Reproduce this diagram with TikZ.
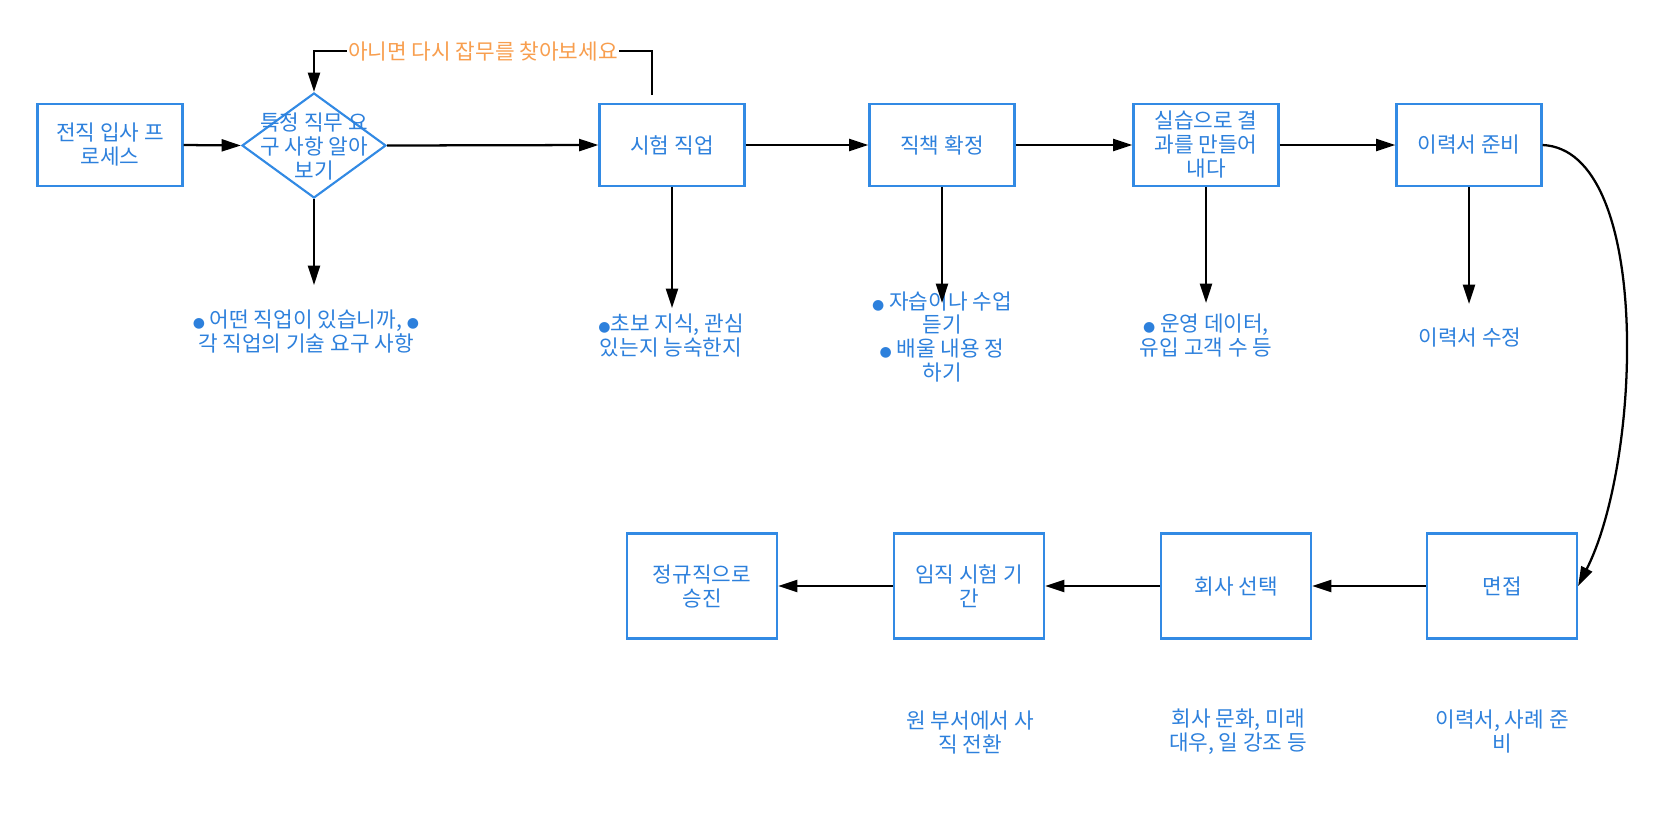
\documentclass[tikz,border=0pt]{standalone}
\usepackage{fontspec}
\setmainfont{Noto Sans CJK KR}
\newfontfamily\dejavu{DejaVu Sans}
\usetikzlibrary{arrows.meta,shapes.geometric,calc}
\definecolor{tblue}{RGB}{45,128,220}
\definecolor{bblue}{RGB}{50,138,228}
\definecolor{lorange}{RGB}{248,158,78}
\newcommand{\bul}{{\dejavu\fontsize{10.5}{10.5}\selectfont ●}}
\tikzset{
  topbox/.style={draw=bblue, line width=1.6pt, minimum width=108.75pt, minimum height=61.5pt, inner sep=1pt, align=center, text=tblue},
  botbox/.style={draw=bblue, line width=1.6pt, minimum width=112.5pt, minimum height=78.75pt, inner sep=1pt, align=center, text=tblue},
  diam/.style={draw=bblue, line width=1.6pt, shape=diamond, minimum width=108pt, minimum height=78.75pt, inner sep=0pt},
  lbl/.style={align=center, text=tblue, inner sep=1pt},
  conn/.style={draw=black, line width=1.7pt, -{Triangle[length=14.5pt,width=9pt]}}
}
\begin{document}
\begin{tikzpicture}[x=0.75pt,y=-0.75pt, font=\fontsize{16}{18}\selectfont]
\useasboundingbox (0,0) rectangle (1666,815);
% top row
\node[topbox] (A) at (110,145) {전직 입사 프\\로세스};
\node[diam] (B) at (314,145.5) {};
\node[lbl] (Bt) at (314,147) {특정 직무 요\\구 사항 알아\\보기};
\node[topbox] (C) at (672,145) {시험 직업};
\node[topbox] (D) at (942,145) {직책 확정};
\node[topbox] (E) at (1206,145) {실습으로 결\\과를 만들어\\내다};
\node[topbox] (F) at (1469,145) {이력서 준비};
% bottom row
\node[botbox] (G) at (1502,586) {면접};
\node[botbox] (H) at (1236,586) {회사 선택};
\node[botbox] (I) at (969,586) {임직 시험 기\\간};
\node[botbox] (J) at (702,586) {정규직으로\\승진};
% labels
\node[lbl] (La) at (306,332) {\bul{} 어떤 직업이 있습니까, \bul{}\\각 직업의 기술 요구 사항};
\node[lbl] (Lc) at (671,336) {\bul{}초보 지식, 관심\\있는지 능숙한지};
\node[lbl] (Ld) at (942,337) {\bul{} 자습이나 수업\\듣기\\\bul{} 배울 내용 정\\하기};
\node[lbl] (Le) at (1206,336) {\bul{} 운영 데이터,\\유입 고객 수 등};
\node[lbl] (Lf) at (1470,338) {이력서 수정};
\node[lbl] (Li) at (970,732) {원 부서에서 사\\직 전환};
\node[lbl] (Lh) at (1238,732) {회사 문화, 미래\\대우, 일 강조 등};
\node[lbl] (Lg) at (1502,732) {이력서, 사례 준\\비};
% free ends
\coordinate (tb) at (314,285);
\coordinate (tc) at (672,308);
\coordinate (td) at (942,303);
\coordinate (te) at (1206,303);
\coordinate (tf) at (1469,304);
\coordinate (fb1) at (652,95);
\coordinate (fb2) at (652,51);
\coordinate (fb3) at (314,51);
% connectors
\draw[conn] (A.east) -- (B.west);
\draw[conn] (B.east) -- (C.west);
\draw[conn] (C.east) -- (D.west);
\draw[conn] (D.east) -- (E.west);
\draw[conn] (E.east) -- (F.west);
\draw[conn] (B.south) -- (tb);
\draw[conn] (C.south) -- (tc);
\draw[conn] (D.south) -- (td);
\draw[conn] (E.south) -- (te);
\draw[conn] (F.south) -- (tf);
\draw[conn] (fb1) -- (fb2) -- node[midway, fill=white, text=lorange, inner sep=1pt] (fbl) {아니면 다시 잡무를 찾아보세요} (fb3) -- (B.north);
\draw[conn] (F.east) .. controls (1652,150) and (1642,460) .. (G.east);
\draw[conn] (G.west) -- (H.east);
\draw[conn] (H.west) -- (I.east);
\draw[conn] (I.west) -- (J.east);
\end{tikzpicture}
\end{document}
